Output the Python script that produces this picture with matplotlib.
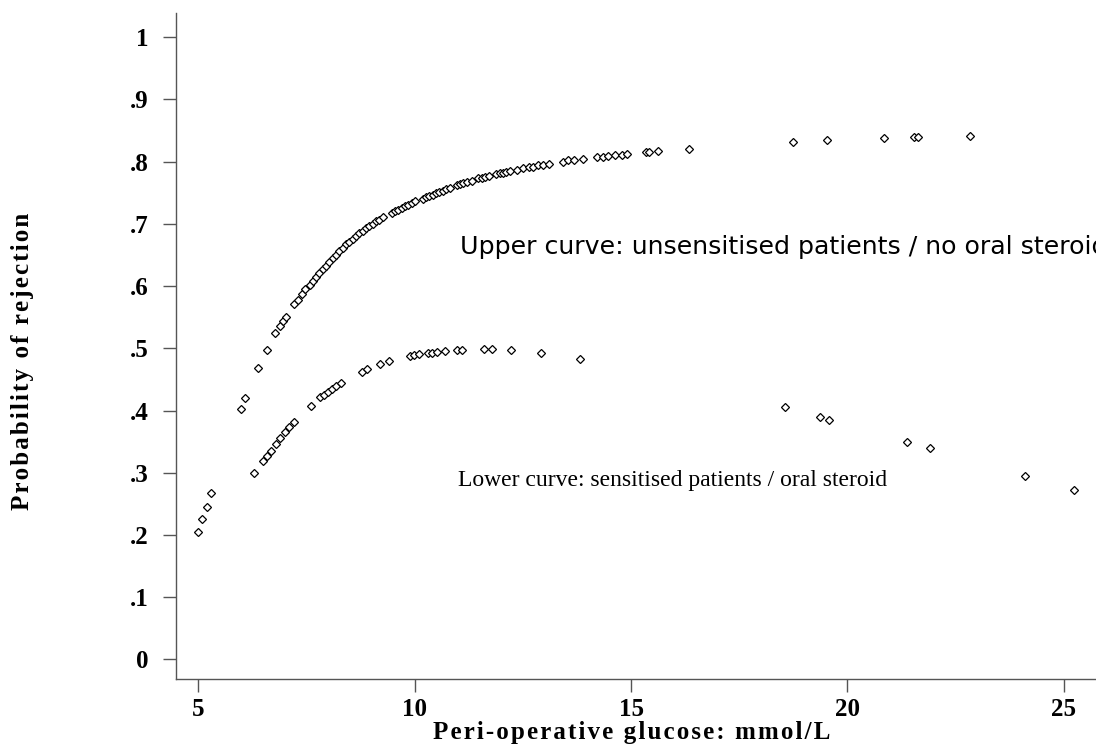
import matplotlib
matplotlib.use("Agg")
import matplotlib.pyplot as plt

# ----------------------------------------------------------------------------------------------------------------------
# Data.
# ----------------------------------------------------------------------------------------------------------------------
upper_x = [5.98, 6.09, 6.39, 6.59, 6.78, 6.89, 6.96, 7.02, 7.20, 7.30, 7.39, 7.47, 7.57, 7.64, 7.72, 7.80, 7.87,
           7.95, 8.03, 8.11, 8.18, 8.26, 8.34, 8.41, 8.49, 8.57, 8.64, 8.72, 8.80, 8.88, 8.95, 9.03, 9.11, 9.18,
           9.27, 9.47, 9.55, 9.62, 9.70, 9.78, 9.85, 9.93, 10.01, 10.19, 10.26, 10.34, 10.42, 10.49, 10.57, 10.65,
           10.72, 10.82, 10.97, 11.05, 11.12, 11.22, 11.32, 11.47, 11.55, 11.62, 11.72, 11.88, 11.96, 12.03, 12.11,
           12.20, 12.36, 12.51, 12.63, 12.74, 12.86, 12.96, 13.11, 13.42, 13.55, 13.67, 13.90, 14.22, 14.34, 14.47,
           14.63, 14.78, 14.91, 15.34, 15.41, 15.63, 16.33, 18.73, 19.53, 20.84, 21.54, 21.64, 22.83]
upper_y = [0.402, 0.420, 0.469, 0.497, 0.524, 0.536, 0.544, 0.550, 0.571, 0.578, 0.588, 0.595, 0.602, 0.608, 0.614,
           0.621, 0.627, 0.633, 0.639, 0.645, 0.650, 0.656, 0.662, 0.667, 0.671, 0.676, 0.681, 0.685, 0.689, 0.693,
           0.697, 0.700, 0.704, 0.707, 0.711, 0.718, 0.721, 0.723, 0.726, 0.728, 0.731, 0.733, 0.736, 0.740, 0.743,
           0.745, 0.747, 0.749, 0.751, 0.753, 0.756, 0.758, 0.762, 0.764, 0.766, 0.768, 0.769, 0.773, 0.774, 0.776,
           0.777, 0.780, 0.781, 0.782, 0.783, 0.785, 0.787, 0.789, 0.791, 0.792, 0.794, 0.795, 0.797, 0.800, 0.802,
           0.803, 0.804, 0.807, 0.808, 0.809, 0.810, 0.811, 0.812, 0.816, 0.816, 0.817, 0.821, 0.832, 0.834, 0.838,
           0.839, 0.839, 0.842]

lower_x = [4.99, 5.09, 5.19, 5.29, 6.29, 6.49, 6.58, 6.68, 6.79, 6.89, 7.00, 7.10, 7.20, 7.60, 7.81, 7.91, 8.00,
           8.10, 8.19, 8.29, 8.79, 8.90, 9.21, 9.40, 9.89, 9.99, 10.10, 10.30, 10.41, 10.51, 10.71, 10.98, 11.09,
           11.59, 11.78, 12.22, 12.92, 13.82, 18.56, 19.37, 19.57, 21.38, 21.90, 24.11, 25.24]
lower_y = [0.204, 0.225, 0.245, 0.267, 0.299, 0.319, 0.327, 0.335, 0.346, 0.356, 0.365, 0.373, 0.382, 0.408, 0.421,
           0.425, 0.430, 0.435, 0.440, 0.445, 0.462, 0.466, 0.475, 0.480, 0.488, 0.490, 0.491, 0.492, 0.493, 0.494,
           0.496, 0.498, 0.498, 0.499, 0.499, 0.497, 0.492, 0.483, 0.406, 0.390, 0.385, 0.350, 0.339, 0.295, 0.273]

x_ticks = [5, 10, 15, 20, 25]
y_ticks = [0, 0.1, 0.2, 0.3, 0.4, 0.5, 0.6, 0.7, 0.8, 0.9, 1.0]
y_tick_labels = ['0', '.1', '.2', '.3', '.4', '.5', '.6', '.7', '.8', '.9', '1']

x_title = 'Peri-operative glucose: mmol/L'
y_title = 'Probability of rejection'
upper_note = 'Upper curve: unsensitised patients / no oral steroid'
lower_note = 'Lower curve: sensitised patients / oral steroid'

SERIF = ['Liberation Serif', 'DejaVu Serif']


def spaced(s):
    # loose letter spacing like the original axis titles
    return '\u200a'.join(s)


# ----------------------------------------------------------------------------------------------------------------------
# Plot.
# ----------------------------------------------------------------------------------------------------------------------
fig = plt.figure(figsize=(10.96, 7.46), dpi=100)
ax = fig.add_axes([176 / 1096, 1 - 679 / 746, 1 - 176 / 1096, (679 - 13) / 746])

mk = dict(linestyle='none', marker='D', markersize=3.9, markerfacecolor='white',
          markeredgecolor='black', markeredgewidth=0.9)
ax.plot(upper_x, upper_y, **mk)
ax.plot(lower_x, lower_y, **mk)

ax.set_xlim(4.485, 25.742)
ax.set_ylim(-0.0315, 1.0389)

ax.set_xticks(x_ticks)
ax.set_xticklabels([str(t) for t in x_ticks])
ax.set_yticks(y_ticks)
ax.set_yticklabels(y_tick_labels)
for lab in ax.get_xticklabels() + ax.get_yticklabels():
    lab.set_family(SERIF)
    lab.set_fontweight('bold')
    lab.set_fontsize(18)

ax.tick_params(axis='both', direction='out', length=9.5, width=1.0, color='#555555')
ax.tick_params(axis='x', pad=4.0)
ax.tick_params(axis='y', pad=10.0)

for side in ['top', 'right']:
    ax.spines[side].set_visible(False)
for side in ['left', 'bottom']:
    ax.spines[side].set_color('#555555')
    ax.spines[side].set_linewidth(1.0)

ax.text(11.05, 0.663, upper_note, family='DejaVu Sans', fontsize=18.2, va='center', ha='left', clip_on=False)
ax.text(11.0, 0.287, lower_note, family=SERIF, fontsize=17, va='center', ha='left')

fig.text(23 / 1096, 1 - 361 / 746, spaced(y_title), family=SERIF, fontweight='bold', fontsize=18,
         rotation=90, ha='center', va='center')
fig.text(632 / 1096, 1 - 739.5 / 746, spaced(x_title), family=SERIF, fontweight='bold', fontsize=18,
         ha='center', va='baseline')

fig.savefig('out.png', dpi=100)
